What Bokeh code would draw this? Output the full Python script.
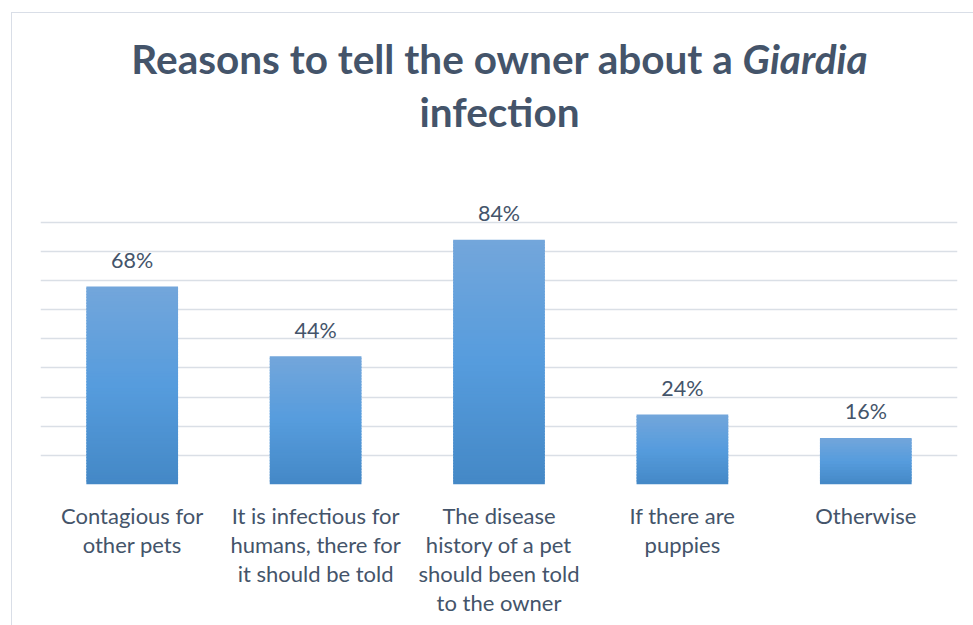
from bokeh.plotting import figure
from bokeh.models import FactorRange, FixedTicker, Div, Range1d, ColumnDataSource
from bokeh.layouts import column
from bokeh.core.properties import value
from bokeh.embed import file_html
from bokeh.resources import INLINE

# ---- data ----
title_main = "Reasons to tell the owner about a "
title_italic = "Giardia"
title_line2 = "infection"

categories = [
    "Contagious for\nother pets",
    "It is infectious for\nhumans, there for\nit should be told",
    "The disease\nhistory of a pet\nshould been told\nto the owner",
    "If there are\npuppies",
    "Otherwise",
]
values = [68, 44, 84, 24, 16]
value_labels = ["68%", "44%", "84%", "24%", "16%"]
grid_ticks = [0, 10, 20, 30, 40, 50, 60, 70, 80, 90]

# ---- style ----
TEXT = "#44546A"
GRID = "#DADFE6"
BORDER = "#D9DEE7"
FONT = "Lato"

stops = [(0.0, (68, 136, 198)), (0.5, (86, 156, 221)), (1.0, (115, 166, 219))]


def grad(t):
    for (t0, c0), (t1, c1) in zip(stops[:-1], stops[1:]):
        if t0 <= t <= t1:
            f = (t - t0) / (t1 - t0)
            r, g, b = (round(a + (bb - a) * f) for a, bb in zip(c0, c1))
            return "#%02x%02x%02x" % (r, g, b)
    return "#%02x%02x%02x" % stops[-1][1]


STEP = 1.0  # strip height in value units
xs, bots, tops, cols = [], [], [], []
for c, v in zip(categories, values):
    n = max(1, int(round(v / STEP)))
    for k in range(n):
        xs.append(c)
        bots.append(v * k / n)
        tops.append(min(v, v * (k + 1.5) / n))
        cols.append(grad((k + 0.5) / n))
strips = ColumnDataSource(dict(x=xs, bottom=bots, top=tops, color=cols))

p = figure(
    x_range=FactorRange(*categories, range_padding=0),
    y_range=Range1d(0, 99.2),
    width=961, height=462,
    min_border_left=28, min_border_right=16,
    min_border_top=32, min_border_bottom=141,
    output_backend="svg", toolbar_location=None,
)
p.outline_line_color = None
p.background_fill_color = "white"
p.border_fill_color = "white"

p.vbar(x="x", bottom="bottom", top="top", width=0.5, fill_color="color",
       line_color=None, source=strips)

p.text(x=categories, y=values, text=value_labels, text_align="center",
       text_baseline="alphabetic", y_offset=-26.5, text_font=value(FONT),
       text_font_size="21.5px", text_color=TEXT)

p.yaxis.visible = False
p.xgrid.visible = False
p.ygrid.ticker = FixedTicker(ticks=grid_ticks)
p.ygrid.grid_line_color = GRID
p.ygrid.grid_line_width = 1.5

ax = p.xaxis[0]
ax.axis_line_color = None
ax.major_tick_line_color = None
ax.minor_tick_line_color = None
ax.major_tick_in = 0
ax.major_tick_out = 0
ax.major_label_standoff = 17
ax.major_label_text_font = FONT
ax.major_label_text_font_size = "22px"
ax.major_label_text_color = TEXT
ax.major_label_text_line_height = 1.085
ax.major_label_orientation = "horizontal"

html = (
    f'<div style="font-family:Lato; font-weight:bold; font-size:40.5px; '
    f'line-height:53px; color:{TEXT}; text-align:center; padding-top:19px; '
    f'padding-left:14px; width:961px; box-sizing:border-box;">'
    f'{title_main}<i>{title_italic}</i><br>{title_line2}</div>'
)
div = Div(text=html, width=961, height=150, margin=0)

layout = column(div, p, margin=(12, 0, 0, 11),
                styles={"border-left": f"1px solid {BORDER}",
                        "border-top": f"1px solid {BORDER}",
                        "background-color": "white"})

open("out.html", "w").write(file_html(layout, INLINE))
